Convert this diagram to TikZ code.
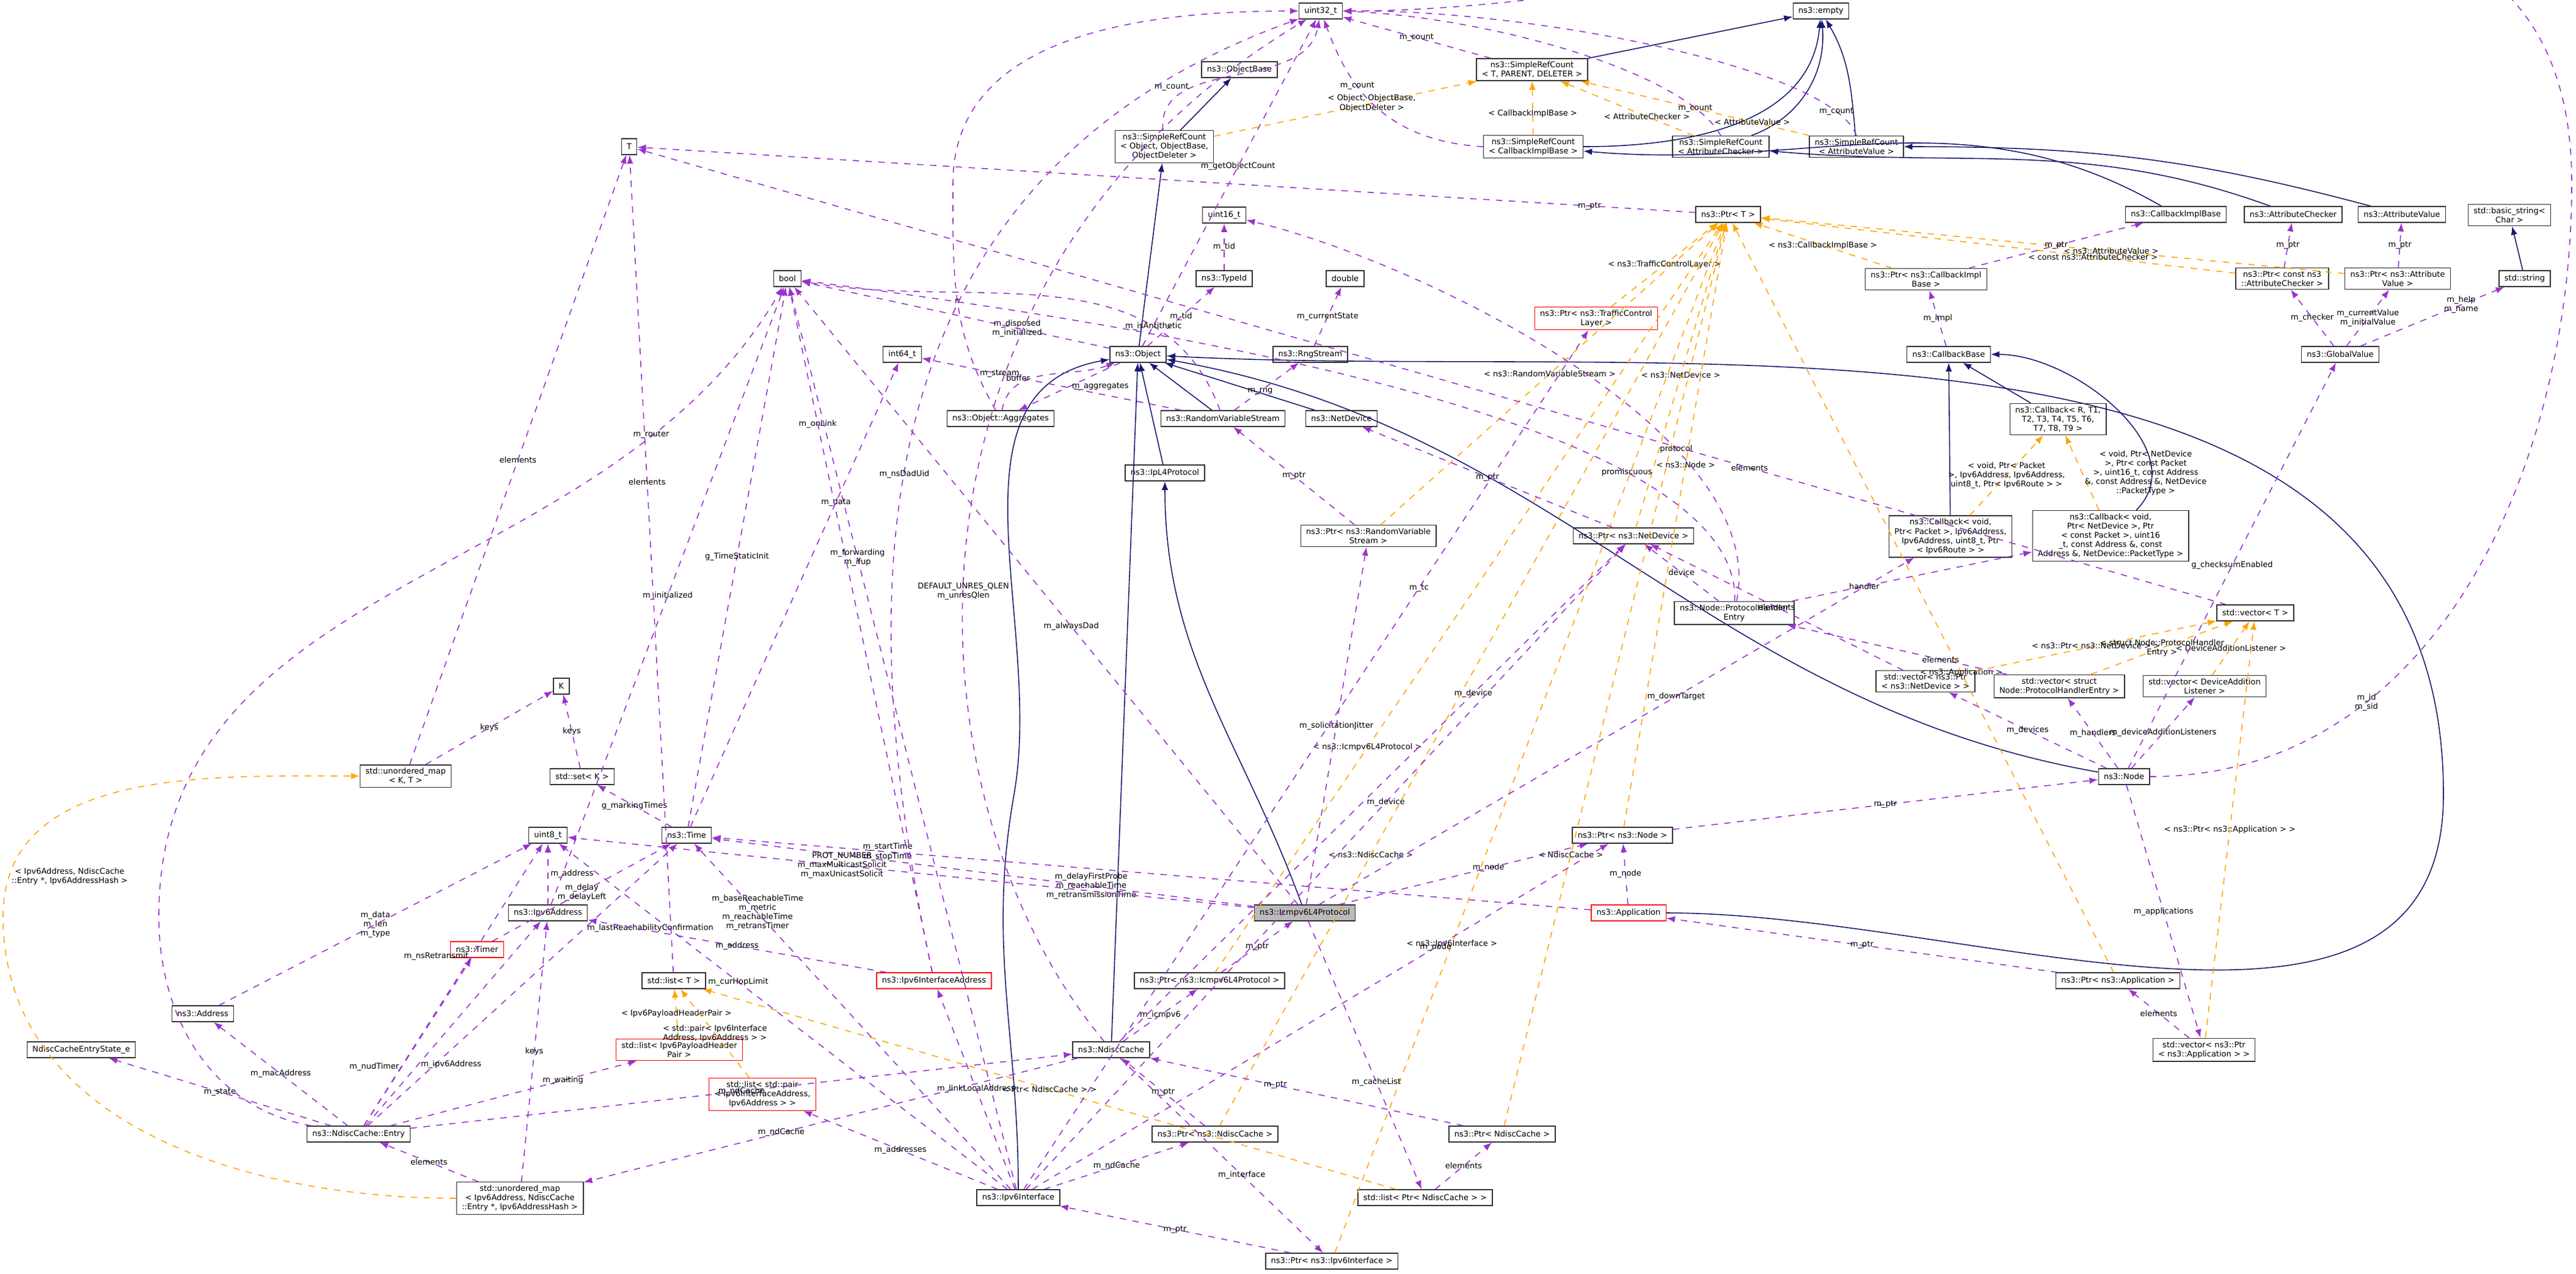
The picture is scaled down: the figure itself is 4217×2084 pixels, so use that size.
\documentclass[tikz,border=0pt]{standalone}
\usepackage{fontspec}
\setmainfont{DejaVu Sans}
\usepackage{xcolor}
\usepackage{tikz}
\usetikzlibrary{positioning,arrows.meta}
\definecolor{usecol}{HTML}{9A32CD}
\definecolor{tplcol}{HTML}{FFA500}
\definecolor{inhcol}{HTML}{191970}
\newcommand{\dfont}{\fontsize{3.7}{4.3}\selectfont}

\begin{document}
\begin{tikzpicture}[x=0.01cm, y=-0.01cm, >={Latex[length=4pt,width=3pt]},
    every node/.style={font=\dfont},
    cls/.style={draw=black!80, line width=0.4pt, fill=white, inner xsep=2.5pt, inner ysep=1.4pt, minimum height=7.4pt, align=center},
    redcls/.style={cls, draw=red},
    graycls/.style={cls, fill=black!27},
    use/.style={->, usecol, dashed, line width=0.45pt},
    tpl/.style={->, tplcol, dashed, line width=0.45pt},
    inh/.style={->, inhcol, line width=0.45pt},
    lbl/.style={text=black, align=center, inner sep=1pt}]
    \useasboundingbox (0,0) rectangle (4217,2084);

    % top row
    \node[cls] (u32) at (2162,18) {uint32\_t};
    \node[cls] (empty) at (2981,18) {ns3::empty};
    \node[cls] (srcT) at (2508,114) {ns3::SimpleRefCount\\ < T, PARENT, DELETER >};
    \node[cls] (objbase) at (2029,114) {ns3::ObjectBase};
    \node[cls] (srcObj) at (1906,240) {ns3::SimpleRefCount\\ < Object, ObjectBase,\\ ObjectDeleter >};
    \node[cls] (srcCib) at (2510,240) {ns3::SimpleRefCount\\ < CallbackImplBase >};
    \node[cls] (srcAc) at (2817,240) {ns3::SimpleRefCount\\ < AttributeChecker >};
    \node[cls] (srcAv) at (3039,240) {ns3::SimpleRefCount\\ < AttributeValue >};
    \node[cls] (T) at (1030,240) {T};

    % pointers and attribute classes
    \node[cls] (ptrT) at (2829,351) {ns3::Ptr< T >};
    \node[cls] (u16) at (2004,352) {uint16\_t};
    \node[cls] (cib) at (3562,351) {ns3::CallbackImplBase};
    \node[cls] (ac) at (3754,351) {ns3::AttributeChecker};
    \node[cls] (av) at (3932,351) {ns3::AttributeValue};
    \node[cls] (bstr) at (4108,352) {std::basic\_string<\\ Char >};
    \node[cls] (typeid) at (2004,456) {ns3::TypeId};
    \node[cls] (bool) at (1289,456) {bool};
    \node[cls] (double) at (2202,456) {double};
    \node[cls] (ptrCib) at (3153,457) {ns3::Ptr< ns3::CallbackImpl\\ Base >};
    \node[cls] (ptrAc) at (3736,456) {ns3::Ptr< const ns3\\ ::AttributeChecker >};
    \node[cls] (ptrAv) at (3925,456) {ns3::Ptr< ns3::Attribute\\ Value >};
    \node[cls] (string) at (4133,456) {std::string};
    \node[redcls] (ptrTcl) at (2613,521) {ns3::Ptr< ns3::TrafficControl\\ Layer >};

    % object layer
    \node[cls] (i64) at (1477,580) {int64\_t};
    \node[cls] (object) at (1863,580) {ns3::Object};
    \node[cls] (rng) at (2145,580) {ns3::RngStream};
    \node[cls] (cbbase) at (3190,580) {ns3::CallbackBase};
    \node[cls] (gval) at (3831,580) {ns3::GlobalValue};
    \node[cls] (aggr) at (1638,685) {ns3::Object::Aggregates};
    \node[cls] (rvs) at (2002,685) {ns3::RandomVariableStream};
    \node[cls] (netdev) at (2196,685) {ns3::NetDevice};
    \node[cls] (cbR) at (3369,686) {ns3::Callback< R, T1,\\ T2, T3, T4, T5, T6,\\ T7, T8, T9 >};
    \node[cls] (ipl4) at (1907,774) {ns3::IpL4Protocol};
    \node[cls] (ptrRvs) at (2240,877) {ns3::Ptr< ns3::RandomVariable\\ Stream >};
    \node[cls] (ptrNd) at (2674,877) {ns3::Ptr< ns3::NetDevice >};
    \node[cls] (cbPkt) at (3193,878) {ns3::Callback< void,\\ Ptr< Packet >, Ipv6Address,\\ Ipv6Address, uint8\_t, Ptr\\ < Ipv6Route > >};
    \node[cls] (cbNd) at (3455,877) {ns3::Callback< void,\\ Ptr< NetDevice >, Ptr\\ < const Packet >, uint16\\ \_t, const Address \&, const\\ Address \&, NetDevice::PacketType >};
    \node[cls] (phe) at (2839,1003) {ns3::Node::ProtocolHandler\\ Entry};
    \node[cls] (vecT) at (3692,1003) {std::vector< T >};
    \node[cls] (vecNd) at (3152,1115) {std::vector< ns3::Ptr\\ < ns3::NetDevice > >};
    \node[cls] (vecPhe) at (3371,1123) {std::vector< struct\\ Node::ProtocolHandlerEntry >};
    \node[cls] (vecDal) at (3609,1123) {std::vector< DeviceAddition\\ Listener >};
    \node[cls] (node) at (3477,1271) {ns3::Node};

    % left side
    \node[cls] (K) at (919,1123) {K};
    \node[cls] (umapKT) at (664,1270) {std::unordered\_map\\ < K, T >};
    \node[cls] (setK) at (953,1271) {std::set< K >};
    \node[cls] (u8) at (897,1367) {uint8\_t};
    \node[cls] (time) at (1124,1367) {ns3::Time};
    \node[cls] (ptrNode) at (2656,1367) {ns3::Ptr< ns3::Node >};
    \node[cls] (ip6addr) at (897,1494) {ns3::Ipv6Address};
    \node[graycls] (icmp) at (2136,1494) {ns3::Icmpv6L4Protocol};
    \node[redcls] (app) at (2666,1494) {ns3::Application};
    \node[redcls] (timer) at (781,1554) {ns3::Timer};
    \node[cls] (listT) at (1103,1605) {std::list< T >};
    \node[redcls] (ip6ia) at (1529,1605) {ns3::Ipv6InterfaceAddress};
    \node[cls] (ptrIcmp) at (1980,1605) {ns3::Ptr< ns3::Icmpv6L4Protocol >};
    \node[cls] (ptrApp) at (3467,1605) {ns3::Ptr< ns3::Application >};
    \node[cls] (address) at (332,1659) {ns3::Address};
    \node[cls] (state) at (133,1718) {NdiscCacheEntryState\_e};
    \node[redcls] (listPhp) at (1112,1718) {std::list< Ipv6PayloadHeader\\ Pair >};
    \node[cls] (ndc) at (1819,1718) {ns3::NdiscCache};
    \node[cls] (vecApp) at (3608,1718) {std::vector< ns3::Ptr\\ < ns3::Application > >};
    \node[redcls] (listPair) at (1248,1791) {std::list< std::pair\\ < Ipv6InterfaceAddress,\\ Ipv6Address > >};
    \node[cls] (entry) at (587,1856) {ns3::NdiscCache::Entry};
    \node[cls] (ptrNdc3) at (1989,1856) {ns3::Ptr< ns3::NdiscCache >};
    \node[cls] (ptrNdc) at (2459,1856) {ns3::Ptr< NdiscCache >};
    \node[cls] (umapIp) at (851,1961) {std::unordered\_map\\ < Ipv6Address, NdiscCache\\ ::Entry *, Ipv6AddressHash >};
    \node[cls] (ip6if) at (1667,1960) {ns3::Ipv6Interface};
    \node[cls] (listPtr) at (2333,1960) {std::list< Ptr< NdiscCache > >};
    \node[cls] (ptrIf) at (2180,2064) {ns3::Ptr< ns3::Ipv6Interface >};

    % inheritance
    \draw[inh] (srcT) -- (empty);
    \draw[inh] (srcObj) -- (objbase);
    \draw[inh] (srcCib) to[out=0,in=-95] (empty);
    \draw[inh] (srcAc) to[out=20,in=-85] (empty);
    \draw[inh] (srcAv) to[out=95,in=-60] (empty);
    \draw[inh] (object) -- (srcObj);
    \draw[inh] (cib) to[out=150,in=-5] (srcCib);
    \draw[inh] (ac) to[out=160,in=-5] (srcAc);
    \draw[inh] (av) to[out=165,in=0] (srcAv);
    \draw[inh] (string) -- (bstr);
    \draw[inh] (rvs) -- (object);
    \draw[inh] (netdev) -- (object);
    \draw[inh] (ipl4) -- (object);
    \draw[inh] (icmp) to[out=110,in=-90] (ipl4);
    \draw[inh] (ndc) -- (object);
    \draw[inh] (ip6if) to[out=90,in=-100] (1660,1300) to[out=80,in=190] (object);
    \draw[inh] (node) to[out=170,in=-10] (object);
    \draw[inh] (app) to[out=0,in=-90] (4000,1300) to[out=90,in=-3] (object);
    \draw[inh] (cbR) -- (cbbase);
    \draw[inh] (cbPkt) -- (cbbase);
    \draw[inh] (cbNd) to[out=45,in=0] (cbbase);

    % template instances
    \draw[tpl] (srcObj) -- node[lbl, pos=.6]{< Object, ObjectBase,\\ ObjectDeleter >} (srcT);
    \draw[tpl] (srcCib) -- node[lbl, pos=.4]{< CallbackImplBase >} (srcT);
    \draw[tpl] (srcAc) -- node[lbl, pos=.35]{< AttributeChecker >} (srcT);
    \draw[tpl] (srcAv) -- node[lbl, pos=.25]{< AttributeValue >} (srcT);
    \draw[tpl] (ptrTcl) -- node[lbl]{< ns3::TrafficControlLayer >} (ptrT);
    \draw[tpl] (ptrCib) -- node[lbl]{< ns3::CallbackImplBase >} (ptrT);
    \draw[tpl] (ptrAc) -- node[lbl, pos=.3]{< const ns3::AttributeChecker >} (ptrT);
    \draw[tpl] (ptrAv) -- node[lbl, pos=.4]{< ns3::AttributeValue >} (ptrT);
    \draw[tpl] (ptrRvs) -- node[lbl]{< ns3::RandomVariableStream >} (ptrT);
    \draw[tpl] (ptrNd) -- node[lbl]{< ns3::NetDevice >} (ptrT);
    \draw[tpl] (ptrNode) -- node[lbl, pos=.6]{< ns3::Node >} (ptrT);
    \draw[tpl] (ptrIcmp) -- node[lbl, pos=.3]{< ns3::Icmpv6L4Protocol >} (ptrT);
    \draw[tpl] (ptrNdc3) -- node[lbl, pos=.3]{< ns3::NdiscCache >} (ptrT);
    \draw[tpl] (ptrNdc) -- node[lbl, pos=.3]{< NdiscCache >} (ptrT);
    \draw[tpl] (ptrIf) -- node[lbl, pos=.3]{< ns3::Ipv6Interface >} (ptrT);
    \draw[tpl] (ptrApp) -- node[lbl, pos=.4]{< ns3::Application >} (ptrT);
    \draw[tpl] (cbPkt) -- node[lbl]{< void, Ptr< Packet\\ >, Ipv6Address, Ipv6Address,\\ uint8\_t, Ptr< Ipv6Route > >} (cbR);
    \draw[tpl] (cbNd) -- node[lbl, right]{< void, Ptr< NetDevice\\ >, Ptr< const Packet\\ >, uint16\_t, const Address\\ \&, const Address \&, NetDevice\\ ::PacketType >} (cbR);
    \draw[tpl] (vecNd) -- node[lbl]{< ns3::Ptr< ns3::NetDevice > >} (vecT);
    \draw[tpl] (vecPhe) -- node[lbl]{< struct Node::ProtocolHandler\\ Entry >} (vecT);
    \draw[tpl] (vecDal) -- node[lbl]{< DeviceAdditionListener >} (vecT);
    \draw[tpl] (vecApp) -- node[lbl]{< ns3::Ptr< ns3::Application > >} (vecT);
    \draw[tpl] (umapIp) to[out=180,in=-90] (5,1500) to[out=90,in=180] node[lbl, pos=.1, right]{< Ipv6Address, NdiscCache\\ ::Entry *, Ipv6AddressHash >} (umapKT);
    \draw[tpl] (listPhp) -- node[lbl]{< Ipv6PayloadHeaderPair >} (listT);
    \draw[tpl] (listPair) -- node[lbl]{< std::pair< Ipv6Interface\\ Address, Ipv6Address > >} (listT);
    \draw[tpl] (listPtr) -- node[lbl]{< Ptr< NdiscCache > >} (listT);

    % members
    \draw[use] (srcT) -- node[lbl]{m\_count} (u32);
    \draw[use] (srcObj) to[out=95,in=-100] node[lbl, pos=.3, left]{m\_count} (u32);
    \draw[use] (srcCib.west) .. controls (2250,230) and (2200,120) .. node[lbl, pos=.6]{m\_count} (u32);
    \draw[use] (srcAc.north) .. controls (2760,120) and (2450,30) .. node[lbl, pos=.15]{m\_count} (u32.east);
    \draw[use] (srcAv.north) .. controls (3000,110) and (2500,15) .. node[lbl, pos=.12]{m\_count} (u32.east);
    \draw[use] (ptrT) -- node[lbl, pos=.1]{m\_ptr} (T);
    \draw[use] (object) -- node[lbl, pos=.55]{m\_getObjectCount} (u32);
    \draw[use] (typeid) -- node[lbl]{m\_tid} (u16);
    \draw[use] (object) -- node[lbl]{m\_tid} (typeid);
    \draw[use] (object) -- node[lbl, pos=.3]{m\_disposed\\ m\_initialized} (bool);
    \draw[use] (object) -- node[lbl, pos=.5, right]{m\_aggregates} (aggr);
    \draw[use] (aggr) to[out=80,in=200] node[lbl, pos=.4, left]{buffer} (object);
    \draw[use] (aggr) to[out=120,in=-90] node[lbl]{n} (1560,300) to[out=90,in=180] (u32);
    \draw[use] (rng) -- node[lbl]{m\_currentState} (double);
    \draw[use] (rvs) -- node[lbl, pos=.4]{m\_rng} (rng);
    \draw[use] (rvs) -- node[lbl, pos=.7]{m\_stream} (i64);
    \draw[use] (rvs) to[out=110,in=-10] node[lbl, pos=.25]{m\_isAntithetic} (bool);
    \draw[use] (ptrRvs) -- node[lbl]{m\_ptr} (rvs);
    \draw[use] (ptrNd) -- node[lbl]{m\_ptr} (netdev);
    \draw[use] (ptrCib) -- node[lbl]{m\_ptr} (cib);
    \draw[use] (cbbase) -- node[lbl]{m\_impl} (ptrCib);
    \draw[use] (ptrAc) -- node[lbl]{m\_ptr} (ac);
    \draw[use] (ptrAv) -- node[lbl]{m\_ptr} (av);
    \draw[use] (gval) -- node[lbl]{m\_checker} (ptrAc);
    \draw[use] (gval) -- node[lbl]{m\_currentValue\\ m\_initialValue} (ptrAv);
    \draw[use] (gval) -- node[lbl, pos=.7]{m\_help\\ m\_name} (string);
    \draw[use] (phe) -- node[lbl]{device} (ptrNd);
    \draw[use] (phe) .. controls (2850,720) and (2100,560) .. node[lbl, pos=.3]{promiscuous} (bool);
    \draw[use] (phe) .. controls (2900,700) and (2300,420) .. node[lbl, pos=.3]{protocol} (u16);
    \draw[use] (phe) -- node[lbl, pos=.3]{handler} (cbNd);
    \draw[use] (vecT) -- node[lbl, pos=.3]{elements} (T);
    \draw[use] (vecNd) -- node[lbl]{elements} (ptrNd);
    \draw[use] (vecPhe) -- node[lbl, pos=.3]{elements} (phe);
    \draw[use] (vecApp) -- node[lbl]{elements} (ptrApp);
    \draw[use] (node) -- node[lbl]{m\_devices} (vecNd);
    \draw[use] (node) -- node[lbl]{m\_handlers} (vecPhe);
    \draw[use] (node) -- node[lbl]{m\_deviceAdditionListeners} (vecDal);
    \draw[use] (node) to[out=0,in=-90] node[lbl, pos=.3]{m\_id\\ m\_sid} (4210,300) to[out=90,in=0] (u32);
    \draw[use] (node) -- node[lbl]{g\_checksumEnabled} (gval);
    \draw[use] (node) -- node[lbl]{m\_applications} (vecApp);
    \draw[use] (ptrNode) -- node[lbl]{m\_ptr} (node);
    \draw[use] (app) -- node[lbl]{m\_node} (ptrNode);
    \draw[use] (app) -- node[lbl, pos=.8]{m\_startTime\\ m\_stopTime} (time);
    \draw[use] (ptrApp) -- node[lbl]{m\_ptr} (app);
    \draw[use] (umapKT) -- node[lbl]{keys} (K);
    \draw[use] (umapKT) -- node[lbl]{elements} (T);
    \draw[use] (setK) -- node[lbl]{keys} (K);
    \draw[use] (time) -- node[lbl]{g\_markingTimes} (setK);
    \draw[use] (time) -- node[lbl]{g\_TimeStaticInit} (bool);
    \draw[use] (time) -- node[lbl, pos=.7]{m\_data} (i64);
    \draw[use] (listT) -- node[lbl, pos=.6]{elements} (T);
    \draw[use] (timer) -- node[lbl]{m\_delay\\ m\_delayLeft} (time);
    \draw[use] (ip6addr) -- node[lbl, right]{m\_address} (u8);
    \draw[use] (ip6addr) -- node[lbl]{m\_initialized} (bool);
    \draw[use] (address) -- node[lbl]{m\_data\\ m\_len\\ m\_type} (u8);
    \draw[use] (entry) -- node[lbl]{m\_state} (state);
    \draw[use] (entry) -- node[lbl]{m\_macAddress} (address);
    \draw[use] (entry) -- node[lbl, pos=.6, left]{m\_nsRetransmit} (u8);
    \draw[use] (entry) -- node[lbl, pos=.7, right]{m\_lastReachabilityConfirmation} (time);
    \draw[use] (entry) -- node[lbl, pos=.35, left]{m\_nudTimer} (timer);
    \draw[use] (entry) -- node[lbl, pos=.3, right]{m\_ipv6Address} (ip6addr);
    \draw[use] (entry) to[out=170,in=-90] (260,1500) to[out=90,in=-120] node[lbl, pos=.8]{m\_router} (bool);
    \draw[use] (entry) -- node[lbl]{m\_ndCache} (ndc);
    \draw[use] (entry) -- node[lbl, pos=.7]{m\_waiting} (listPhp);
    \draw[use] (umapIp) -- node[lbl]{elements} (entry);
    \draw[use] (umapIp) -- node[lbl]{keys} (ip6addr);
    \draw[use] (ndc) -- node[lbl, pos=.6]{m\_ndCache} (umapIp);
    \draw[use] (ndc) -- node[lbl]{m\_icmpv6} (ptrIcmp);
    \draw[use] (ndc) -- node[lbl, pos=.7]{m\_device} (ptrNd);
    \draw[use] (ndc) -- node[lbl, pos=.6]{m\_interface} (ptrIf);
    \draw[use] (ndc) .. controls (1470,1300) and (1440,450) .. node[lbl, pos=.45]{DEFAULT\_UNRES\_QLEN\\ m\_unresQlen} (u32);
    \draw[use] (ptrNdc3) -- node[lbl]{m\_ptr} (ndc);
    \draw[use] (ptrNdc) -- node[lbl, pos=.6]{m\_ptr} (ndc);
    \draw[use] (listPtr) -- node[lbl]{elements} (ptrNdc);
    \draw[use] (icmp) -- node[lbl, pos=.6]{m\_cacheList} (listPtr);
    \draw[use] (icmp) -- node[lbl, pos=.3]{m\_delayFirstProbe\\ m\_reachableTime\\ m\_retransmissionTime} (time);
    \draw[use] (icmp) -- node[lbl, pos=.6]{PROT\_NUMBER\\ m\_maxMulticastSolicit\\ m\_maxUnicastSolicit} (u8);
    \draw[use] (icmp) -- node[lbl, pos=.45]{m\_alwaysDad} (bool);
    \draw[use] (icmp) -- node[lbl, pos=.6]{m\_node} (ptrNode);
    \draw[use] (icmp) -- node[lbl]{m\_solicitationJitter} (ptrRvs);
    \draw[use] (icmp) -- node[lbl, pos=.6]{m\_downTarget} (cbPkt);
    \draw[use] (ptrIcmp) -- node[lbl]{m\_ptr} (icmp);
    \draw[use] (ip6ia) -- node[lbl]{m\_address} (ip6addr);
    \draw[use] (ip6ia) -- node[lbl, pos=.8]{m\_onLink} (bool);
    \draw[use] (ip6ia) .. controls (1400,1000) and (1380,300) .. node[lbl, pos=.45]{m\_nsDadUid} (u32);
    \draw[use] (ip6if) -- node[lbl, pos=.8]{m\_baseReachableTime\\ m\_metric\\ m\_reachableTime\\ m\_retransTimer} (time);
    \draw[use] (ip6if) -- node[lbl, pos=.6]{m\_curHopLimit} (u8);
    \draw[use] (ip6if) -- node[lbl, pos=.7]{m\_forwarding\\ m\_ifup} (bool);
    \draw[use] (ip6if) -- node[lbl]{m\_linkLocalAddress} (ip6ia);
    \draw[use] (ip6if) -- node[lbl]{m\_addresses} (listPair);
    \draw[use] (ip6if) -- node[lbl]{m\_ndCache} (ptrNdc3);
    \draw[use] (ip6if) -- node[lbl, pos=.6]{m\_device} (ptrNd);
    \draw[use] (ip6if) -- node[lbl, pos=.7]{m\_node} (ptrNode);
    \draw[use] (ip6if) -- node[lbl, pos=.7]{m\_tc} (ptrTcl);
    \draw[use] (ptrIf) -- node[lbl]{m\_ptr} (ip6if);
\end{tikzpicture}
\end{document}
